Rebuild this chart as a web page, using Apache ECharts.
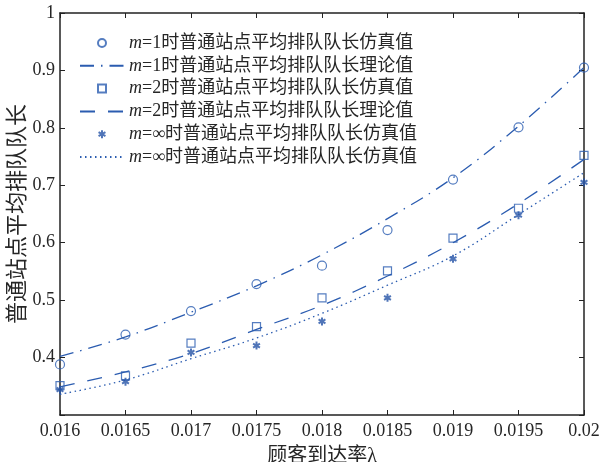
<!DOCTYPE html>
<html>
<head>
<meta charset="utf-8">
<script src="https://cdn.jsdelivr.net/npm/echarts@6/dist/echarts.min.js"></script>
<style>
html,body{margin:0;padding:0;background:#fff;}
#chart{width:600px;height:462px;}
</style>
</head>
<body>
<div id="chart"></div>
<script>
const xValues = [0.016, 0.0165, 0.017, 0.0175, 0.018, 0.0185, 0.019, 0.0195, 0.02];
const xTickLabels = ['0.016', '0.0165', '0.017', '0.0175', '0.018', '0.0185', '0.019', '0.0195', '0.02'];
const yTickLabels = ['', '0.4', '0.5', '0.6', '0.7', '0.8', '0.9', '1'];

const sim1 = [0.388, 0.440, 0.481, 0.528, 0.560, 0.622, 0.710, 0.801, 0.905];
const theo1 = [0.402, 0.436, 0.479, 0.525, 0.579, 0.642, 0.713, 0.803, 0.905];
const sim2 = [0.351, 0.368, 0.425, 0.454, 0.504, 0.551, 0.608, 0.660, 0.752];
const theo2 = [0.349, 0.375, 0.407, 0.449, 0.491, 0.542, 0.600, 0.668, 0.745];
const simInf = [0.344, 0.358, 0.409, 0.421, 0.463, 0.504, 0.572, 0.648, 0.705];
const theoInf = [0.336, 0.361, 0.398, 0.434, 0.477, 0.526, 0.577, 0.649, 0.722];

const seriesNames = [
  'm=1时普通站点平均排队队长仿真值',
  'm=1时普通站点平均排队队长理论值',
  'm=2时普通站点平均排队队长仿真值',
  'm=2时普通站点平均排队队长理论值',
  'm=∞时普通站点平均排队队长仿真值',
  'm=∞时普通站点平均排队队长仿真值\u200b'
];
const xTitle = '顾客到达率λ';
const yTitle = '普通站点平均排队队长';

const blue = '#2b5cb0';
const axisColor = '#222';
const textColor = '#262626';
const latin = '"Liberation Serif", "Times New Roman", serif';
const cjk = '"Liberation Serif", "Noto Sans CJK SC", serif';

const squarePath = 'path://M0,0L10,0L10,10L0,10Z';
const starPath = 'path://M5,0L5,10M0.7,2.5L9.3,7.5M0.7,7.5L9.3,2.5';

function pairs(ys) { return xValues.map((x, i) => [x, ys[i]]); }

const chart = echarts.init(document.getElementById('chart'), null, {renderer: 'canvas'});

const xAxisBase = {
  type: 'value', min: 0.016, max: 0.02, interval: 0.0005,
  axisLine: {show: true, lineStyle: {color: axisColor, width: 1.5}},
  axisTick: {show: true, inside: true, length: 5, lineStyle: {color: axisColor, width: 1}},
  splitLine: {show: false}
};
const yAxisBase = {
  type: 'value', min: 0.3, max: 1, interval: 0.1,
  axisLine: {show: true, lineStyle: {color: axisColor, width: 1.5}},
  axisTick: {show: true, inside: true, length: 5, lineStyle: {color: axisColor, width: 1}},
  splitLine: {show: false}
};

const hiddenDot = {color: 'rgba(0,0,0,0)', borderWidth: 0, opacity: 0};

const option = {
  animation: false,
  backgroundColor: '#fff',
  grid: {left: 60, right: 16, top: 13, bottom: 47, containLabel: false, outerBoundsMode: 'none'},
  xAxis: [
    Object.assign({}, xAxisBase, {
      position: 'bottom',
      name: xTitle, nameLocation: 'middle', nameGap: 32, nameMoveOverlap: false,
      nameTextStyle: {fontFamily: cjk, fontSize: 20, color: textColor},
      axisLabel: {
        margin: 7, fontFamily: latin, fontSize: 18, color: textColor,
        formatter: v => xTickLabels[Math.round((v - 0.016) / 0.0005)] || ''
      }
    }),
    Object.assign({}, xAxisBase, {position: 'top', axisLabel: {show: false}})
  ],
  yAxis: [
    Object.assign({}, yAxisBase, {
      position: 'left',
      name: yTitle, nameLocation: 'middle', nameGap: 31, nameRotate: 90, nameMoveOverlap: false,
      nameTextStyle: {fontFamily: cjk, fontSize: 22, color: textColor},
      axisLabel: {
        margin: 5, fontFamily: latin, fontSize: 18, color: textColor,
        formatter: v => yTickLabels[Math.round((v - 0.3) / 0.1)] || ''
      }
    }),
    Object.assign({}, yAxisBase, {position: 'right', axisLabel: {show: false}})
  ],
  legend: {
    orient: 'vertical', left: 74, top: 29,
    itemWidth: 44, itemHeight: 8, itemGap: 4.8,
    selectedMode: false,
    symbolKeepAspect: true,
    data: [
      {name: seriesNames[0]},
      {name: seriesNames[1], itemStyle: hiddenDot},
      {name: seriesNames[2], icon: squarePath},
      {name: seriesNames[3], itemStyle: hiddenDot},
      {name: seriesNames[4], icon: starPath},
      {name: seriesNames[5], itemStyle: hiddenDot}
    ],
    formatter: name => '{i|m}{t|' + name.replace('\u200b', '').slice(1) + '}',
    textStyle: {
      color: textColor, fontSize: 18, fontFamily: cjk,
      rich: {
        i: {fontStyle: 'italic', fontFamily: latin, fontSize: 18, color: textColor},
        t: {fontFamily: cjk, fontSize: 18, color: textColor}
      }
    }
  },
  series: [
    {
      name: seriesNames[0], type: 'scatter', data: pairs(sim1),
      symbol: 'circle', symbolSize: 9, symbolKeepAspect: true,
      itemStyle: {color: 'rgba(0,0,0,0)', borderColor: blue, borderWidth: 1.2},
      emphasis: {disabled: true}, z: 5
    },
    {
      name: seriesNames[1], type: 'line', data: pairs(theo1), smooth: 0.4,
      symbol: 'none', showSymbol: false,
      lineStyle: {color: blue, width: 1.3, type: [14, 7, 1.5, 7]},
      itemStyle: {color: blue},
      emphasis: {disabled: true}, z: 3
    },
    {
      name: seriesNames[2], type: 'scatter', data: pairs(sim2),
      symbol: squarePath, symbolSize: 8, symbolKeepAspect: true,
      itemStyle: {color: 'rgba(0,0,0,0)', borderColor: blue, borderWidth: 1.2},
      emphasis: {disabled: true}, z: 5
    },
    {
      name: seriesNames[3], type: 'line', data: pairs(theo2), smooth: 0.4,
      symbol: 'none', showSymbol: false,
      lineStyle: {color: blue, width: 1.3, type: [15, 13]},
      itemStyle: {color: blue},
      emphasis: {disabled: true}, z: 3
    },
    {
      name: seriesNames[4], type: 'scatter', data: pairs(simInf),
      symbol: starPath, symbolSize: 8, symbolKeepAspect: true,
      itemStyle: {color: blue, borderColor: '#2452a6', borderWidth: 2},
      emphasis: {disabled: true}, z: 5
    },
    {
      name: seriesNames[5], type: 'line', data: pairs(theoInf), smooth: 0.4,
      symbol: 'none', showSymbol: false,
      lineStyle: {color: blue, width: 1.3, type: [1.5, 3.5]},
      itemStyle: {color: blue},
      emphasis: {disabled: true}, z: 3
    }
  ]
};
chart.setOption(option);
</script>
</body>
</html>
